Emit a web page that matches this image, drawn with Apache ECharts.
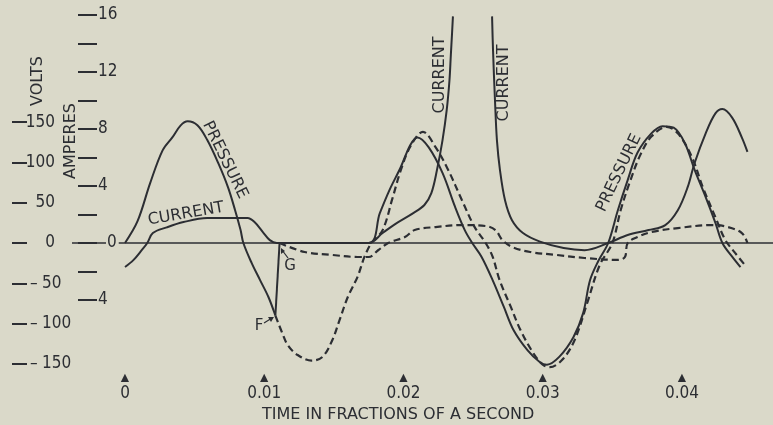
<!DOCTYPE html>
<html>
<head>
<meta charset="utf-8">
<script src="https://cdn.jsdelivr.net/npm/echarts@6/dist/echarts.min.js"></script>
<style>
  html, body { margin: 0; padding: 0; background: #dad9c9; }
  #chart { width: 773px; height: 425px; }
</style>
</head>
<body>
<div id="chart"></div>
<script>
// axis ticks
var timeTicks = [0, 0.01, 0.02, 0.03, 0.04];
var voltTicks = [-150, -100, -50, 0, 50, 100, 150];
var ampTicks = [-4, -2, 0, 2, 4, 6, 8, 10, 12, 14, 16];
var ampLabels = [-4, 0, 4, 8, 12, 16];

// solid pressure (volts) - circuit broken at F, back to zero at G
var pressureSolidT = [0, 0.0009, 0.0018, 0.0027, 0.0034, 0.0040, 0.0045, 0.0052, 0.0059, 0.0067, 0.0074, 0.0079, 0.0083, 0.0085, 0.0091, 0.0097, 0.0103, 0.0108, 0.0111,
  0.0175, 0.0183, 0.0190, 0.0198, 0.0205, 0.0210, 0.0218, 0.0228, 0.0237, 0.0244, 0.0249, 0.0256, 0.0264, 0.0272, 0.0279, 0.0289, 0.0298, 0.0303, 0.0312, 0.0322, 0.0329, 0.0334, 0.0340, 0.0347,
  0.0354, 0.0361, 0.0368, 0.0378, 0.0386, 0.0394, 0.0402, 0.0409, 0.0417, 0.0424, 0.0429, 0.0436, 0.0442];
var pressureSolidV = [0, 27, 74, 115, 131, 146, 151, 146, 128, 99, 69, 41, 16, 0, -25, -46, -67, -90, 0,
  0, 37, 66, 94, 122, 131, 119, 87, 45, 16, 1, -17, -46, -79, -108, -133, -148, -151, -141, -117, -87, -46, -22, 0,
  41, 78, 112, 136, 145, 143, 124, 91, 57, 25, 0, -17, -30];
var breakF = 17; // index of F, G follows it

// dashed pressure (volts)
var pressureDashT = [0.0108, 0.0113, 0.0117, 0.0124, 0.0134, 0.0142, 0.0149, 0.0154, 0.0160, 0.0167, 0.0172, 0.0177, 0.0185, 0.0192, 0.0198, 0.0205,
  0.0214, 0.0223, 0.0232, 0.0242, 0.0251, 0.0259, 0.0264, 0.0269, 0.0277, 0.0284, 0.0293, 0.0300, 0.0305, 0.0314, 0.0323, 0.0332, 0.0341, 0.0350,
  0.0356, 0.0363, 0.0370, 0.0378, 0.0389, 0.0397, 0.0407, 0.0415, 0.0424, 0.0431, 0.0438, 0.0445];
var pressureDashV = [-90, -112, -127, -139, -146, -141, -120, -96, -67, -42, -17, 0, 16, 55, 90, 120,
  138, 119, 91, 53, 20, 0, -17, -46, -79, -108, -136, -151, -154, -145, -120, -74, -27, 0,
  41, 78, 109, 132, 144, 136, 107, 69, 32, 4, -12, -27];

// solid current (amperes) - goes off the top between the two CURRENT branches
var currentSolidT = [0, 0.0006, 0.0012, 0.0016, 0.0020, 0.0030, 0.0042, 0.0059, 0.0073, 0.0088, 0.0093, 0.0099, 0.0104, 0.0109,
  0.0175, 0.0185, 0.0194, 0.0207, 0.0215, 0.0220, 0.0224, 0.0228, 0.0231, 0.0233, 0.0234, 0.02348, 0.02355, 0.0250,
  0.02636, 0.02643, 0.02657, 0.02671, 0.02693, 0.02729, 0.02779, 0.02858, 0.0298, 0.0315, 0.0330, 0.0347, 0.0361, 0.0376, 0.0388,
  0.0397, 0.0404, 0.0409, 0.0417, 0.0424, 0.0429, 0.0436, 0.0443, 0.0447];
var currentSolidA = [-1.68, -1.2, -0.5, 0, 0.7, 1.1, 1.47, 1.75, 1.75, 1.75, 1.47, 0.77, 0.2, 0,
  0, 0.7, 1.33, 2.1, 2.67, 3.5, 5.1, 7.2, 9.3, 11.4, 13.2, 14.6, 15.9, null,
  15.9, 13.5, 10.0, 7.2, 5.1, 3.0, 1.6, 0.7, 0.1, -0.35, -0.5, 0, 0.56, 0.91, 1.26,
  2.3, 3.9, 5.6, 7.7, 9.1, 9.4, 8.8, 7.4, 6.4];

// dashed current (amperes)
var currentDashT = [0.0111, 0.0129, 0.0149, 0.0167, 0.0175, 0.0182, 0.0189, 0.0201, 0.0208, 0.0223, 0.0242, 0.0259, 0.0266, 0.0271,
  0.0278, 0.0291, 0.0310, 0.0330, 0.0354, 0.0359, 0.0361, 0.0368, 0.0378, 0.0397, 0.0422, 0.0433, 0.0443, 0.0447];
var currentDashA = [0, -0.63, -0.84, -0.98, -0.98, -0.49, 0, 0.42, 0.91, 1.12, 1.26, 1.19, 0.91, 0.21,
  -0.28, -0.63, -0.84, -1.05, -1.19, -0.98, 0, 0.42, 0.77, 1.05, 1.26, 1.12, 0.7, 0];

var ink = '#2c2e33';
var paper = '#dad9c9';
var numFont = "'Liberation Sans Narrow', 'DejaVu Sans Condensed', sans-serif";
var textFont = "'DejaVu Sans', sans-serif";

function zip(ts, vs) {
  return ts.map(function (t, i) { return [t, vs[i]]; });
}

function label(text, x, y, rot, size) {
  return {
    type: 'text', x: x, y: y, rotation: rot || 0, z: 20,
    style: { text: text, fill: ink, fontFamily: textFont, fontSize: size || 16, align: 'center', verticalAlign: 'middle' }
  };
}

function curve(data, axis, dashed, smooth) {
  return {
    type: 'line', yAxisIndex: axis, data: data,
    showSymbol: false, smooth: smooth, connectNulls: false,
    lineStyle: dashed ? { color: ink, width: 2.2, type: [7, 4] } : { color: ink, width: 2 }
  };
}

var pressureSolid = zip(pressureSolidT, pressureSolidV);

var chart = echarts.init(document.getElementById('chart'));

var firstSeries = curve(pressureSolid.slice(0, breakF + 1), 0, false, 0.35);
firstSeries.markLine = {
  silent: true, symbol: ['none', 'none'],
  label: { show: false },
  lineStyle: { color: ink, type: 'solid', width: 1.6 },
  data: [{ yAxis: 0 }]
};

chart.setOption({
  backgroundColor: paper,
  animation: false,
  title: {
    text: 'TIME IN FRACTIONS OF A SECOND',
    left: 262, top: 407, padding: 0,
    textStyle: { fontFamily: textFont, fontSize: 16, fontWeight: 'normal', color: ink }
  },
  grid: { left: 72, right: 0, top: 5, bottom: 57 },
  xAxis: {
    type: 'value',
    min: -0.003806,
    max: 0.046535,
    axisLine: { show: false, onZero: false },
    axisTick: { show: false },
    splitLine: { show: false },
    axisLabel: {
      customValues: timeTicks,
      margin: 4,
      formatter: function (v) {
        return '{t|▲}\n{n|' + (v === 0 ? '0' : v.toFixed(2)) + '}';
      },
      rich: {
        t: { fontSize: 14, lineHeight: 13, color: ink },
        n: { fontSize: 17, lineHeight: 17, fontFamily: numFont, color: ink }
      }
    }
  },
  yAxis: [
    {
      // volts
      type: 'value',
      min: -155.1,
      max: 295.3,
      position: 'left',
      offset: 60,
      axisLine: { show: false, onZero: false },
      splitLine: { show: false },
      axisTick: { show: true, inside: true, length: 15, customValues: voltTicks, lineStyle: { color: ink, width: 2 } },
      axisLabel: {
        inside: true, customValues: voltTicks, margin: 18, align: 'left',
        fontFamily: numFont, fontSize: 17, color: ink,
        formatter: function (v) {
          return v < 0 ? '{m|–}{d|' + (-v) + '}' : '{p|' + v + '}';
        },
        rich: {
          p: { width: 25, align: 'right', fontFamily: numFont, fontSize: 17, color: ink },
          m: { width: 12, align: 'left', fontFamily: numFont, fontSize: 17, color: ink },
          d: { fontFamily: numFont, fontSize: 17, color: ink }
        }
      }
    },
    {
      // amperes
      type: 'value',
      min: -8.77,
      max: 16.70,
      position: 'left',
      offset: -6,
      z: 10,
      axisLine: { show: false, onZero: false },
      splitLine: { show: false },
      axisTick: { show: true, inside: true, length: 19, customValues: ampTicks, lineStyle: { color: ink, width: 2 } },
      axisLabel: {
        inside: true, customValues: ampLabels, margin: 20, align: 'left',
        fontFamily: numFont, fontSize: 17, color: ink,
        formatter: function (v) {
          return v === 0 ? '{g|}{z|0}' : String(Math.abs(v));
        },
        rich: {
          g: { width: 8 },
          z: { backgroundColor: paper, padding: [0, 2, 0, 1], fontFamily: numFont, fontSize: 17, color: ink }
        }
      }
    }
  ],
  graphic: [
    label('VOLTS', 38, 81, Math.PI / 2),
    label('AMPERES', 71, 141, Math.PI / 2),
    label('PRESSURE', 225, 160, -1.117),
    label('CURRENT', 186, 214, 0.17),
    label('CURRENT', 440, 75, Math.PI / 2),
    label('CURRENT', 504, 83, Math.PI / 2),
    label('PRESSURE', 619, 173, 1.12),
    label('F', 259, 326, 0, 15),
    label('G', 290, 266, 0, 15),
    { type: 'line', z: 20, shape: { x1: 264, y1: 323, x2: 272, y2: 318 }, style: { stroke: ink, lineWidth: 1.2 } },
    { type: 'polygon', z: 20, shape: { points: [[274, 317], [268, 317], [271, 322]] }, style: { fill: ink } },
    { type: 'line', z: 20, shape: { x1: 288, y1: 258, x2: 282, y2: 250 }, style: { stroke: ink, lineWidth: 1.2 } },
    { type: 'polygon', z: 20, shape: { points: [[281, 248], [281, 254], [285, 251]] }, style: { fill: ink } }
  ],
  series: [
    firstSeries,
    curve(pressureSolid.slice(breakF, breakF + 2), 0, false, false),
    curve(pressureSolid.slice(breakF + 1), 0, false, 0.35),
    curve(zip(pressureDashT, pressureDashV), 0, true, 0.35),
    curve(zip(currentSolidT, currentSolidA), 1, false, 0.35),
    curve(zip(currentDashT, currentDashA), 1, true, 0.35)
  ]
});
</script>
</body>
</html>
